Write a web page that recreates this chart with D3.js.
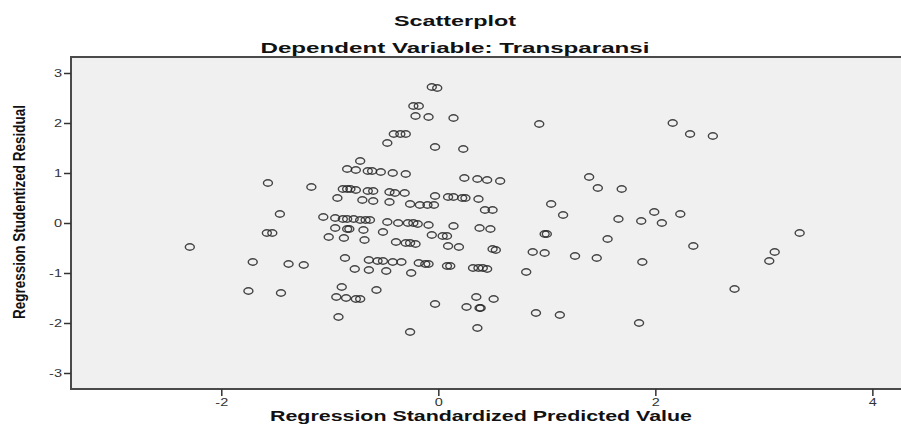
<!DOCTYPE html>
<meta charset="utf-8">
<head>
  <title>Scatterplot - Transparansi</title>
  <script src="https://d3js.org/d3.v7.min.js"></script>
  <style>
    body { margin: 0; background: #fff; }
    text { font-family: "Liberation Sans", Arial, sans-serif; fill: #111; }
    .tick text { font-size: 10px; fill: #333; }
    .title { font-size: 15px; font-weight: bold; }
    .ytitle { font-family: "Liberation Sans Narrow", "Arial Narrow", "Liberation Sans", sans-serif; font-size: 17px; font-weight: bold; }
  </style>
</head>
<body>
<svg id="chart" width="901" height="428"></svg>
<script>
// regression standardized predicted value
var predicted = [
  -0.06, -0.01, -0.23, -0.18, -0.21, -0.09, 0.14, 0.93, -0.41, -0.35,
  -0.30, -0.47, -0.03, 0.23, -0.72, -0.84, -0.76, -0.65, -0.61, -0.53,
  -0.42, -0.30, 0.24, 0.36, 0.45, 0.57, 1.39, 1.47, 1.69, 2.16,
  2.32, 2.53, -1.57, -1.17, -0.93, -0.88, -0.84, -0.81, -0.76, -0.65,
  -0.60, -0.45, -0.40, -0.31, -0.70, -0.60, -0.45, -0.26, -0.17, -0.10,
  -0.04, -0.03, 0.09, 0.14, 0.22, 0.25, 0.37, 0.43, 0.50, 1.04,
  1.15, 1.66, 1.99, 2.23, 1.87, 2.06, -1.46, -1.06, -0.95, -0.88,
  -0.84, -0.78, -0.72, -0.67, -0.63, -0.47, -0.37, -0.28, -0.23, -0.19,
  -0.09, 0.14, 0.38, 0.48, -0.95, -0.84, -0.82, -0.69, -0.51, -1.58,
  -1.53, -1.01, -0.87, -0.68, -0.06, 0.04, 0.08, 0.98, 1.00, 1.56,
  -0.39, -0.30, -0.26, -0.21, 0.09, 0.19, 0.50, 0.53, -2.29, 2.35,
  0.87, 0.98, 1.26, 1.46, -0.86, -0.64, -0.56, -0.51, -0.42, -0.34,
  -0.18, -0.12, -0.09, 0.08, 0.11, 0.32, 0.37, 0.41, 0.45, -1.71,
  -1.38, -1.24, -0.77, -0.64, -0.48, -0.25, 0.81, 1.88, 3.05, 3.10,
  3.33, 2.73, -0.89, -0.57, -0.94, -0.85, -0.76, -0.72, -1.75, -1.45,
  0.35, 0.51, -0.03, 0.26, 0.38, 0.39, 0.90, 1.12, -0.92, -0.26,
  0.36, 1.85
];
// regression studentized residual
var residual = [
  2.72, 2.70, 2.34, 2.34, 2.14, 2.12, 2.10, 1.98, 1.78, 1.78,
  1.78, 1.60, 1.52, 1.48, 1.24, 1.08, 1.06, 1.04, 1.04, 1.02,
  1.00, 0.98, 0.90, 0.88, 0.86, 0.84, 0.92, 0.70, 0.68, 2.00,
  1.78, 1.74, 0.80, 0.72, 0.50, 0.68, 0.68, 0.68, 0.66, 0.64,
  0.64, 0.62, 0.60, 0.60, 0.46, 0.44, 0.42, 0.38, 0.36, 0.36,
  0.36, 0.54, 0.52, 0.52, 0.50, 0.50, 0.48, 0.26, 0.26, 0.38,
  0.16, 0.08, 0.22, 0.18, 0.04, 0.00, 0.18, 0.12, 0.10, 0.08,
  0.08, 0.08, 0.06, 0.06, 0.06, 0.02, 0.00, 0.00, 0.00, -0.02,
  -0.04, -0.06, -0.10, -0.12, -0.10, -0.12, -0.12, -0.14, -0.18, -0.20,
  -0.20, -0.28, -0.30, -0.34, -0.24, -0.26, -0.26, -0.22, -0.22, -0.32,
  -0.38, -0.40, -0.40, -0.42, -0.46, -0.48, -0.52, -0.54, -0.48, -0.46,
  -0.58, -0.60, -0.66, -0.70, -0.70, -0.74, -0.76, -0.76, -0.78, -0.78,
  -0.80, -0.82, -0.82, -0.86, -0.86, -0.90, -0.90, -0.90, -0.92, -0.78,
  -0.82, -0.84, -0.92, -0.94, -0.96, -1.00, -0.98, -0.78, -0.76, -0.58,
  -0.20, -1.32, -1.28, -1.34, -1.48, -1.50, -1.52, -1.52, -1.36, -1.40,
  -1.48, -1.52, -1.62, -1.68, -1.70, -1.70, -1.80, -1.84, -1.88, -2.18,
  -2.10, -2.00
];
var xTicks = [-2, 0, 2, 4];
var yTicks = [-3, -2, -1, 0, 1, 2, 3];
var mainTitle = "Scatterplot";
var subTitle = "Dependent Variable: Transparansi";
var xTitle = "Regression Standardized Predicted Value";
var yTitle = "Regression Studentized Residual";

var svg = d3.select("#chart");
var plotLeft = 71, plotRight = 906, plotTop = 57, plotBottom = 389;
var stretch = 1.45; // the picture is wider than it is tall

var x = d3.scaleLinear().domain([-3.385, 4.31]).range([plotLeft, plotRight]);
var y = d3.scaleLinear().domain([-3.32, 3.32]).range([plotBottom, plotTop]);

svg.append("rect")
  .attr("x", plotLeft).attr("y", plotTop)
  .attr("width", plotRight - plotLeft).attr("height", plotBottom - plotTop)
  .attr("fill", "#f0f0f0")
  .attr("stroke", "#4a4a4a")
  .attr("stroke-width", 2);

var plain = function(d) { return String(d); };

svg.append("g")
  .attr("transform", "translate(0," + plotBottom + ")")
  .call(d3.axisBottom(x).tickValues(xTicks).tickFormat(plain).tickSize(7).tickPadding(3));
svg.append("g")
  .attr("transform", "translate(" + plotLeft + ",0)")
  .call(d3.axisLeft(y).tickValues(yTicks).tickFormat(plain).tickSize(7).tickPadding(2));
svg.selectAll(".domain").remove();
svg.selectAll(".tick line").attr("stroke", "#333").attr("stroke-width", 1.5);

var points = predicted.map(function(d, i) { return { x: d, y: residual[i] }; });

svg.append("g")
  .selectAll("ellipse")
  .data(points)
  .enter().append("ellipse")
    .attr("cx", function(d) { return x(d.x); })
    .attr("cy", function(d) { return y(d.y); })
    .attr("rx", 4.5)
    .attr("ry", 3.2)
    .attr("fill", "none")
    .attr("stroke", "#262626")
    .attr("stroke-width", 1.4)
    .attr("stroke-opacity", 0.85);

svg.append("text").attr("class", "title")
  .attr("x", 455).attr("y", 26)
  .attr("text-anchor", "middle")
  .attr("textLength", 122).attr("lengthAdjust", "spacingAndGlyphs")
  .text(mainTitle);
svg.append("text").attr("class", "title")
  .attr("x", 455).attr("y", 53)
  .attr("text-anchor", "middle")
  .attr("textLength", 389).attr("lengthAdjust", "spacingAndGlyphs")
  .text(subTitle);
svg.append("text").attr("class", "title")
  .attr("x", 481).attr("y", 421)
  .attr("text-anchor", "middle")
  .attr("textLength", 422).attr("lengthAdjust", "spacingAndGlyphs")
  .text(xTitle);
svg.append("text").attr("class", "ytitle")
  .attr("transform", "translate(25,212) rotate(-90)")
  .attr("text-anchor", "middle")
  .attr("textLength", 214).attr("lengthAdjust", "spacingAndGlyphs")
  .text(yTitle);

// widen tick labels to match the stretched picture
svg.selectAll(".tick text").each(function() {
  var len = this.getComputedTextLength();
  d3.select(this).attr("textLength", len * stretch).attr("lengthAdjust", "spacingAndGlyphs");
});
</script>
</body>
